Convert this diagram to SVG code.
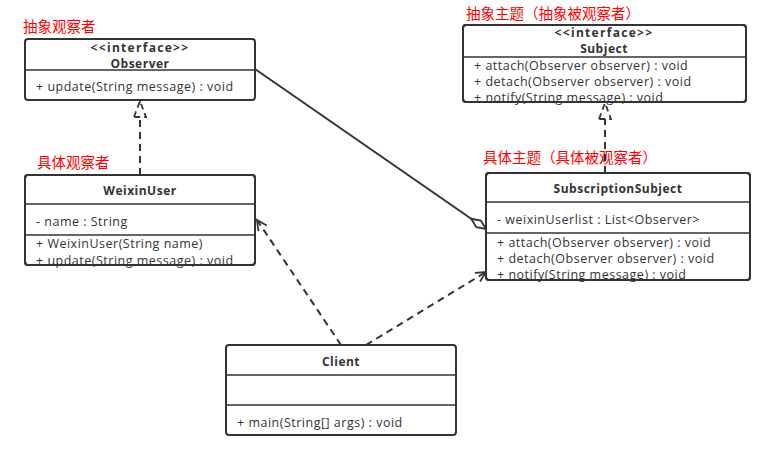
<svg xmlns="http://www.w3.org/2000/svg" width="776" height="460" viewBox="0 0 776 460">
<defs>
<style>
.box{fill:#fff;stroke:#333;stroke-width:2}
.div{stroke:#333;stroke-width:1.5}
text{font-family:"Open Sans","Noto Sans CJK SC",sans-serif;font-size:12.5px;fill:#333;letter-spacing:0.5px}
.b{font-weight:bold;text-anchor:middle;font-size:12px}
.sp{letter-spacing:1.3px}
.lbl{font-family:"Noto Sans CJK SC",sans-serif;fill:#f00;font-size:14.5px;letter-spacing:0}
.dash{fill:none;stroke:#333;stroke-width:2;stroke-dasharray:7 5}
.solid{fill:none;stroke:#333;stroke-width:2}
</style>
<marker id="open" markerWidth="14" markerHeight="14" refX="12" refY="7" orient="auto" markerUnits="userSpaceOnUse">
<path d="M2,2 L12,7 L2,12" fill="none" stroke="#333" stroke-width="1.8"/>
</marker>
<marker id="tri" markerWidth="20" markerHeight="20" refX="18" refY="10" orient="auto" markerUnits="userSpaceOnUse">
<path d="M2,4 L18,10 L2,16 Z" fill="#fff" stroke="#333" stroke-width="1.8" stroke-dasharray="6 4"/>
</marker>
<marker id="dia" markerWidth="22" markerHeight="12" refX="20" refY="6" orient="auto" markerUnits="userSpaceOnUse">
<path d="M2,6 L11,2 L20,6 L11,10 Z" fill="#fff" stroke="#333" stroke-width="1.8"/>
</marker>
</defs>
<text class="lbl" x="23" y="32">抽象观察者</text>
<text class="lbl" x="466" y="19">抽象主题（抽象被观察者）</text>
<text class="lbl" x="37" y="168">具体观察者</text>
<text class="lbl" x="483" y="163">具体主题（具体被观察者）</text>
<g id="connectors">
<line class="solid" x1="255" y1="69" x2="486" y2="229" marker-end="url(#dia)"/>
<line class="dash" x1="140" y1="175" x2="140" y2="101" marker-end="url(#tri)"/>
<line class="dash" x1="605" y1="173" x2="605" y2="103" marker-end="url(#tri)"/>
<line class="dash" x1="341" y1="345" x2="257" y2="220" marker-end="url(#open)"/>
<line class="dash" x1="366" y1="345" x2="486" y2="272" marker-end="url(#open)"/>
</g>
<g id="Observer">
<rect class="box" x="25" y="39" width="230" height="61" rx="3"/>
<line class="div" x1="25" y1="70" x2="255" y2="70"/>
<text class="b sp" x="140" y="52">&lt;&lt;interface&gt;&gt;</text>
<text class="b" x="140" y="68">Observer</text>
<text x="36" y="91">+ update(String message) : void</text>
</g>
<g id="Subject">
<rect class="box" x="463" y="25" width="283" height="77" rx="3"/>
<line class="div" x1="463" y1="57" x2="746" y2="57"/>
<text class="b sp" x="604" y="37">&lt;&lt;interface&gt;&gt;</text>
<text class="b" x="604" y="53">Subject</text>
<text x="474" y="70">+ attach(Observer observer) : void</text>
<text x="474" y="86">+ detach(Observer observer) : void</text>
<text x="474" y="102">+ notify(String message) : void</text>
<rect class="box" x="463" y="25" width="283" height="77" rx="3" style="fill:none"/>
</g>
<g id="WeixinUser">
<rect class="box" x="25" y="175" width="230" height="90" rx="3"/>
<line class="div" x1="25" y1="204" x2="255" y2="204"/>
<line class="div" x1="25" y1="235" x2="255" y2="235"/>
<text class="b" x="140" y="195">WeixinUser</text>
<text x="36" y="226">- name : String</text>
<text x="36" y="248">+ WeixinUser(String name)</text>
<text x="36" y="265">+ update(String message) : void</text>
<rect class="box" x="25" y="175" width="230" height="90" rx="3" style="fill:none"/>
</g>
<g id="SubscriptionSubject">
<rect class="box" x="486" y="173" width="264" height="107" rx="3"/>
<line class="div" x1="486" y1="202" x2="750" y2="202"/>
<line class="div" x1="486" y1="233" x2="750" y2="233"/>
<text class="b" x="618" y="193">SubscriptionSubject</text>
<text x="497" y="224">- weixinUserlist : List&lt;Observer&gt;</text>
<text x="497" y="247">+ attach(Observer observer) : void</text>
<text x="497" y="263">+ detach(Observer observer) : void</text>
<text x="497" y="279">+ notify(String message) : void</text>
<rect class="box" x="486" y="173" width="264" height="107" rx="3" style="fill:none"/>
</g>
<g id="Client">
<rect class="box" x="226" y="345" width="230" height="90" rx="3"/>
<line class="div" x1="226" y1="375" x2="456" y2="375"/>
<line class="div" x1="226" y1="405" x2="456" y2="405"/>
<text class="b" x="341" y="366">Client</text>
<text x="237" y="427">+ main(String[] args) : void</text>
</g>
</svg>
